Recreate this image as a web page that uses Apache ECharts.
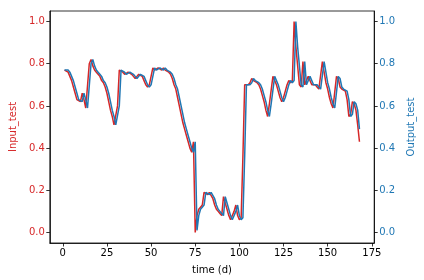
<!DOCTYPE html>
<html>
<head>
<meta charset="utf-8">
<script src="https://cdn.jsdelivr.net/npm/echarts@6/dist/echarts.min.js"></script>
<style>html,body{margin:0;padding:0;background:#fff}#c{width:424px;height:280px}</style>
</head>
<body>
<div id="c"></div>
<script>
// Input_test (red), t = 1..168
const inputTest = [
0.77,0.77,0.76,0.74,0.72,0.69,0.66,0.63,0.63,0.62,
0.66,0.63,0.59,0.59,0.80,0.82,0.79,0.77,0.76,0.75,
0.74,0.72,0.71,0.69,0.66,0.62,0.58,0.55,0.51,0.51,
0.60,0.77,0.77,0.76,0.75,0.75,0.76,0.76,0.75,0.74,
0.73,0.74,0.75,0.75,0.74,0.72,0.70,0.69,0.70,0.74,
0.78,0.77,0.77,0.78,0.78,0.77,0.78,0.77,0.77,0.76,
0.75,0.73,0.70,0.68,0.64,0.60,0.56,0.52,0.49,0.46,
0.43,0.40,0.38,0.43,0.00,0.08,0.11,0.12,0.13,0.19,
0.19,0.18,0.19,0.19,0.16,0.13,0.11,0.10,0.09,0.08,
0.17,0.14,0.11,0.08,0.06,0.06,0.10,0.13,0.08,0.06,
0.07,0.36,0.70,0.70,0.70,0.71,0.73,0.72,0.72,0.71,
0.70,0.68,0.65,0.62,0.58,0.55,0.61,0.61,0.74,0.72,
0.70,0.67,0.64,0.62,0.64,0.67,0.70,0.72,0.71,0.72,
1.00,0.88,0.79,0.70,0.69,0.81,0.70,0.72,0.74,0.72,
0.70,0.70,0.70,0.69,0.68,0.68,0.81,0.76,0.71,0.68,
0.64,0.61,0.59,0.59,0.74,0.73,0.69,0.68,0.68,0.67,
0.63,0.55,0.56,0.62,0.61,0.58,0.51,0.43
];
// Output_test (blue), t = 1..168
const outputTest = [
0.77,0.77,0.77,0.76,0.74,0.72,0.69,0.66,0.63,0.63,
0.62,0.66,0.63,0.59,0.59,0.80,0.82,0.79,0.77,0.76,
0.75,0.74,0.72,0.71,0.69,0.66,0.62,0.58,0.55,0.51,
0.51,0.60,0.77,0.77,0.76,0.75,0.75,0.76,0.76,0.75,
0.74,0.73,0.74,0.75,0.75,0.74,0.72,0.70,0.69,0.70,
0.74,0.78,0.77,0.77,0.78,0.78,0.77,0.78,0.77,0.77,
0.76,0.75,0.73,0.70,0.68,0.64,0.60,0.56,0.52,0.49,
0.46,0.43,0.40,0.38,0.43,0.01,0.08,0.11,0.12,0.13,
0.19,0.19,0.18,0.19,0.19,0.16,0.13,0.11,0.10,0.09,
0.08,0.17,0.14,0.11,0.08,0.06,0.06,0.10,0.13,0.08,
0.06,0.07,0.36,0.70,0.70,0.70,0.71,0.73,0.72,0.72,
0.71,0.70,0.68,0.65,0.62,0.58,0.55,0.61,0.61,0.74,
0.72,0.70,0.67,0.64,0.62,0.64,0.67,0.70,0.72,0.71,
0.72,1.00,0.88,0.79,0.70,0.69,0.81,0.70,0.72,0.74,
0.72,0.70,0.70,0.70,0.69,0.68,0.68,0.81,0.76,0.71,
0.68,0.64,0.61,0.59,0.59,0.74,0.73,0.69,0.68,0.68,
0.67,0.63,0.55,0.56,0.62,0.61,0.58,0.49
];
const xTicks = [0, 25, 50, 75, 100, 125, 150, 175];
const yTicks = [0.0, 0.2, 0.4, 0.6, 0.8, 1.0];

const RED = '#d62728', BLUE = '#1f77b4';
const FONT = 'DejaVu Sans';
const toPairs = arr => arr.map((v, i) => [i + 1, v]);

function yAxis(pos, color, name) {
  return {
    type: 'value', position: pos, min: -0.05, max: 1.05,
    name: name, nameLocation: 'middle', nameGap: 28, nameRotate: 90,
    nameTextStyle: { color: color, fontFamily: FONT, fontSize: 10 },
    axisLine: { show: true, onZero: false, lineStyle: { color: '#000', width: 0.8 } },
    axisTick: { show: true, inside: false, length: 3.5, customValues: yTicks, lineStyle: { color: '#000', width: 0.8 } },
    axisLabel: { show: true, customValues: yTicks, margin: 5, color: color, fontFamily: FONT, fontSize: 10, formatter: v => v.toFixed(1) },
    splitLine: { show: false }
  };
}

const chart = echarts.init(document.getElementById('c'), null, { renderer: 'canvas' });
chart.setOption({
  animation: false,
  backgroundColor: '#fff',
  grid: { left: 45, right: 44, top: 11, bottom: 37, show: true, borderColor: '#000', borderWidth: 0.8, containLabel: false },
  xAxis: {
    type: 'value', min: -7.35, max: 176.35,
    name: 'time (d)', nameLocation: 'middle', nameGap: 22,
    nameTextStyle: { color: '#000', fontFamily: FONT, fontSize: 10 },
    axisLine: { show: true, onZero: false, lineStyle: { color: '#000', width: 0.8 } },
    axisTick: { show: true, length: 3.5, customValues: xTicks, lineStyle: { color: '#000', width: 0.8 } },
    axisLabel: { show: true, customValues: xTicks, margin: 5, color: '#000', fontFamily: FONT, fontSize: 10 },
    splitLine: { show: false }
  },
  yAxis: [yAxis('left', RED, 'Input_test'), yAxis('right', BLUE, 'Output_test')],
  series: [
    { type: 'line', yAxisIndex: 0, data: toPairs(inputTest), showSymbol: false, symbol: 'none',
      lineStyle: { color: RED, width: 1.5 }, itemStyle: { color: RED } },
    { type: 'line', yAxisIndex: 1, data: toPairs(outputTest), showSymbol: false, symbol: 'none',
      lineStyle: { color: BLUE, width: 1.5 }, itemStyle: { color: BLUE } }
  ]
});
</script>
</body>
</html>
